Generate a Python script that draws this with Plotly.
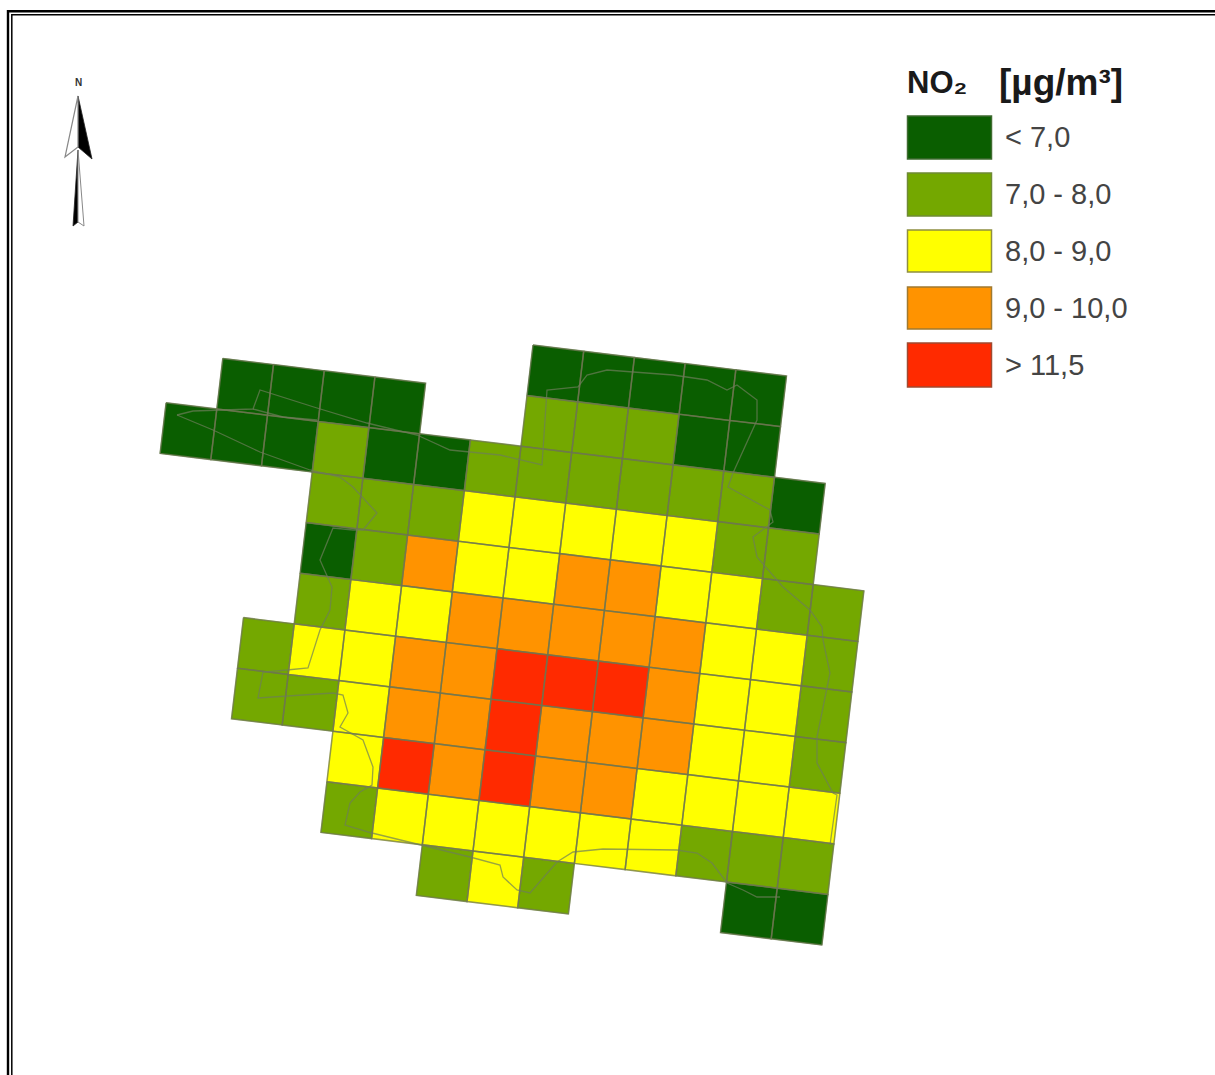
import plotly.graph_objects as go

# ---------- data ----------
class_labels = ["< 7,0", "7,0 - 8,0", "8,0 - 9,0", "9,0 - 10,0", "> 11,5"]
class_colors = ["#0A5E00", "#74A800", "#FFFF00", "#FF9300", "#FF2A00"]
legend_title_gas = "<b>NO₂</b>"
legend_title_unit = "<b>[µg/m³]</b>"

# class index of every grid cell: 0..4, None = no cell.  Columns run from -7 to 6.
grid_first_col = -7
grid_classes = [
    #-7    -6    -5    -4    -3    -2    -1     0  1  2  3     4     5     6
    [None, None, None, None, None, None, None,  0, 0, 0, 0,    0,    None, None],
    [None, 0,    0,    0,    0,    None, None,  1, 1, 1, 0,    0,    None, None],
    [0,    0,    0,    1,    0,    0,    1,     1, 1, 1, 1,    1,    0,    None],
    [None, None, None, 1,    1,    1,    2,     2, 2, 2, 2,    1,    1,    None],
    [None, None, None, 0,    1,    3,    2,     2, 3, 3, 2,    2,    1,    1],
    [None, None, None, 1,    2,    2,    3,     3, 3, 3, 3,    2,    2,    1],
    [None, None, 1,    2,    2,    3,    3,     4, 4, 4, 3,    2,    2,    1],
    [None, None, 1,    1,    2,    3,    3,     4, 3, 3, 3,    2,    2,    1],
    [None, None, None, None, 2,    4,    3,     4, 3, 3, 2,    2,    2,    2],
    [None, None, None, None, 1,    2,    2,     2, 2, 2, 2,    1,    1,    1],
    [None, None, None, None, None, None, 1,     2, 1, None, None, None, 0, 0],
]
# NOTE: row index 0 is the northernmost row of the tilted grid.

# municipal boundary
boundary_x = [177,193,253,260,317,367,417,450,500,542,547,578,587,607,673,707,727,737,757,757,733,728,770,773,753,757,783,810,822,823,830,817,817,833,837,830,None,
              780,757,743,727,712,697,677,603,573,557,530,
              517,503,500,470,420,372,345,350,360,372,373,363,340,348,343,333,258,263,287,308,320,330,332,320,333,353,363,377,353,340,310,260,213,177,None,
              253,283,317]
boundary_y = [415,411,409,390,408,423,435,450,455,465,390,387,375,370,375,380,390,385,400,420,473,487,510,522,537,557,587,610,627,640,673,737,763,793,795,845,None,
              897,897,890,883,863,853,850,849,852,862,893,
              890,877,865,857,845,833,825,803,792,785,767,740,727,713,695,693,698,672,670,668,630,610,587,560,528,530,530,513,487,477,470,452,430,415,None,
              409,417,420]

# ---------- grid geometry (pixels of the map frame) ----------
GRID_ORIGIN = (533.0, 345.0)
GRID_EAST = (50.7, 6.2)
GRID_SOUTH = (-6.0, 50.6)


def corner(c, r):
    return (GRID_ORIGIN[0] + c * GRID_EAST[0] + r * GRID_SOUTH[0],
            GRID_ORIGIN[1] + c * GRID_EAST[1] + r * GRID_SOUTH[1])


def ring(c, r):
    pts = [corner(c, r), corner(c + 1, r), corner(c + 1, r + 1), corner(c, r + 1), corner(c, r)]
    return [p[0] for p in pts] + [None], [p[1] for p in pts] + [None]


fig = go.Figure()

all_x, all_y = [], []
for k, colour in enumerate(class_colors):
    xs, ys = [], []
    for r, row in enumerate(grid_classes):
        for j, v in enumerate(row):
            if v == k:
                a, b = ring(grid_first_col + j, r)
                xs += a
                ys += b
    all_x += xs
    all_y += ys
    fig.add_trace(go.Scatter(x=xs, y=ys, mode="lines", fill="toself", fillcolor=colour,
                             line=dict(width=0.6, color=colour), name=class_labels[k],
                             hoverinfo="name", showlegend=False))

fig.add_trace(go.Scatter(x=all_x, y=all_y, mode="lines", hoverinfo="skip", showlegend=False,
                         line=dict(color="rgba(110,118,80,0.75)", width=1.5)))
fig.add_trace(go.Scatter(x=boundary_x, y=boundary_y, mode="lines", hoverinfo="skip", showlegend=False,
                         line=dict(color="rgba(110,125,90,0.7)", width=1.3)))

shapes = []
annotations = []

# double frame
for x0, y0, w in [(8.0, 11.2, 2.4), (11.8, 14.7, 1.5)]:
    shapes.append(dict(type="path", path=f"M {x0} 1075 L {x0} {y0} L 1215 {y0}",
                       line=dict(color="#000000", width=w), fillcolor="rgba(0,0,0,0)"))

# legend
swatches = [(116, 159), (173, 216), (230, 272), (287, 329), (343, 387)]
border = ["#3f6b30", "#6f8a35", "#8f8f40", "#a07a30", "#a04a30"]
for (y0, y1), lab, col, bc in zip(swatches, class_labels, class_colors, border):
    shapes.append(dict(type="rect", x0=907.5, x1=991.5, y0=y0, y1=y1, fillcolor=col,
                       line=dict(color=bc, width=1.5)))
    annotations.append(dict(x=1003, y=(y0 + y1) / 2 - 0.5, text=lab, showarrow=False, xanchor="left", yanchor="middle",
                            font=dict(family="Liberation Sans, Arial", size=29, color="#444444")))
annotations.append(dict(x=905, y=82, text=legend_title_gas, showarrow=False, xanchor="left", yanchor="middle",
                        font=dict(family="Liberation Sans, Arial", size=31, color="#1a1a1a")))
annotations.append(dict(x=997, y=82, text=legend_title_unit, showarrow=False, xanchor="left", yanchor="middle",
                        font=dict(family="Liberation Sans, Arial", size=37, color="#1a1a1a")))

# north arrow
shapes += [
    dict(type="path", path="M 78 96 L 92 159 L 78 147 Z", fillcolor="#000000", line=dict(color="#222222", width=0.8)),
    dict(type="path", path="M 78 96 L 65 157 L 78 147 Z", fillcolor="#FFFFFF", line=dict(color="#888888", width=1.2)),
    dict(type="path", path="M 78 150 L 73 226 L 78 222 Z", fillcolor="#000000", line=dict(color="#222222", width=0.8)),
    dict(type="path", path="M 78 150 L 84 226 L 78 222 Z", fillcolor="#FFFFFF", line=dict(color="#888888", width=1.0)),
]
annotations.append(dict(x=78, y=82, text="<b>N</b>", showarrow=False, xanchor="center", yanchor="middle",
                        font=dict(family="Liberation Sans, Arial", size=10, color="#333333")))

fig.update_layout(
    width=1215, height=1075, autosize=False,
    margin=dict(l=0, r=0, t=0, b=0),
    paper_bgcolor="#FFFFFF", plot_bgcolor="#FFFFFF",
    xaxis=dict(range=[0, 1215], visible=False, fixedrange=True),
    yaxis=dict(range=[1075, 0], visible=False, fixedrange=True),
    shapes=shapes, annotations=annotations, showlegend=False,
)

fig.write_html("out.html", config={"displayModeBar": False},
               post_script="document.body.style.margin='0';document.body.style.overflow='hidden';")
